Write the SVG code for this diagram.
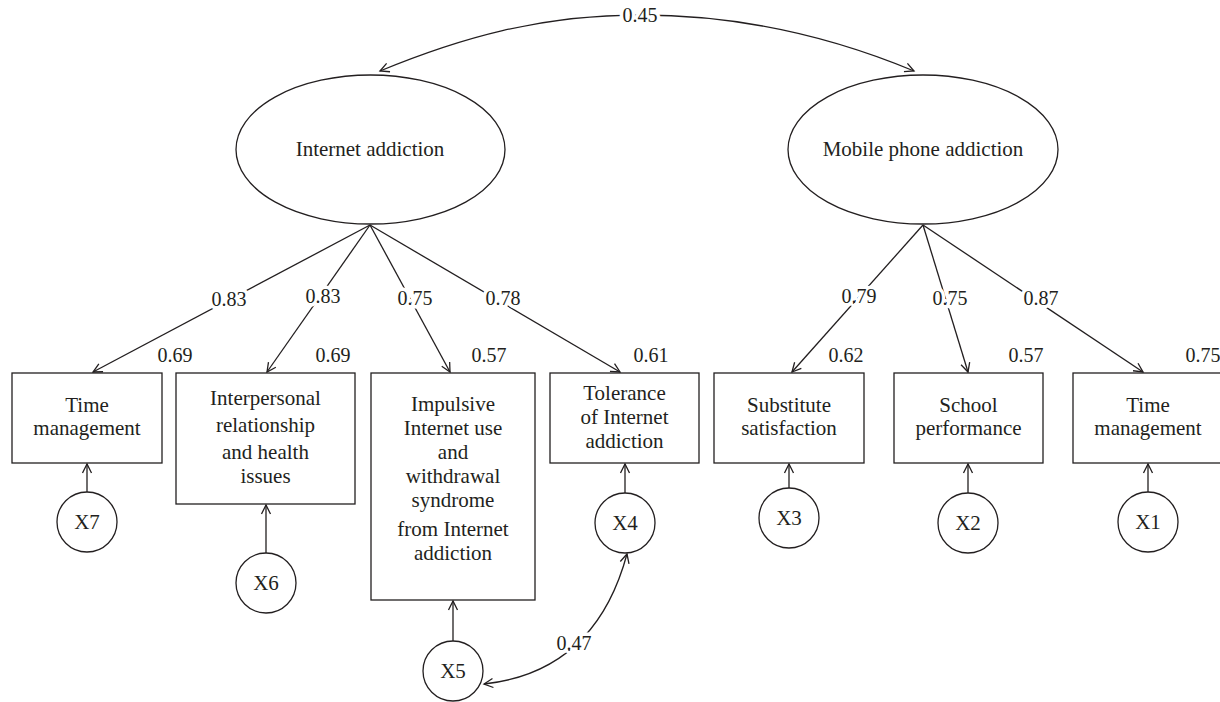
<svg xmlns="http://www.w3.org/2000/svg" width="1220" height="702" viewBox="0 0 1220 702">
<style>
  .shape { fill: #fff; stroke: #231f20; stroke-width: 1.3; }
  .t { font-family: "Liberation Serif", "DejaVu Serif", serif; font-size: 21px; fill: #231f20; text-anchor: middle; }
  .lbl { font-family: "Liberation Serif", "DejaVu Serif", serif; font-size: 20px; fill: #231f20; text-anchor: middle; stroke: #fff; stroke-width: 7; paint-order: stroke; stroke-linejoin: round; }
  .sq { font-family: "Liberation Serif", "DejaVu Serif", serif; font-size: 20px; fill: #231f20; text-anchor: middle; }
  .c { fill: none; stroke: #231f20; stroke-width: 1.3; }
</style>
<defs>
  <marker id="ah" markerUnits="userSpaceOnUse" markerWidth="12" markerHeight="12" refX="10" refY="6" orient="auto-start-reverse">
    <path d="M1,1.5 L10,6 L1,10.5" fill="none" stroke="#231f20" stroke-width="1.3"/>
  </marker>
</defs>

<g id="connectors">
  <path class="c" d="M380,71 C460,38 540,15 640,15 C740,15 830,36 914,71" marker-start="url(#ah)" marker-end="url(#ah)"/>
  <line class="c" x1="370" y1="225" x2="93" y2="372" marker-end="url(#ah)"/>
  <line class="c" x1="370" y1="225" x2="267" y2="372" marker-end="url(#ah)"/>
  <line class="c" x1="370" y1="225" x2="450" y2="372" marker-end="url(#ah)"/>
  <line class="c" x1="370" y1="225" x2="620" y2="372" marker-end="url(#ah)"/>
  <line class="c" x1="923" y1="225" x2="792" y2="372" marker-end="url(#ah)"/>
  <line class="c" x1="923" y1="225" x2="968" y2="372" marker-end="url(#ah)"/>
  <line class="c" x1="923" y1="225" x2="1143" y2="372" marker-end="url(#ah)"/>
  <line class="c" x1="87" y1="492" x2="87" y2="464" marker-end="url(#ah)"/>
  <line class="c" x1="266" y1="553" x2="266" y2="505" marker-end="url(#ah)"/>
  <line class="c" x1="453" y1="641" x2="453" y2="601" marker-end="url(#ah)"/>
  <line class="c" x1="625" y1="493" x2="625" y2="464" marker-end="url(#ah)"/>
  <line class="c" x1="789" y1="488" x2="789" y2="464" marker-end="url(#ah)"/>
  <line class="c" x1="968" y1="493" x2="968" y2="464" marker-end="url(#ah)"/>
  <line class="c" x1="1148" y1="492" x2="1148" y2="464" marker-end="url(#ah)"/>
  <path class="c" d="M484,684 Q595,672 627,554" marker-start="url(#ah)" marker-end="url(#ah)"/>
  <text class="lbl" x="640" y="22">0.45</text>
  <text class="lbl" x="229" y="306">0.83</text>
  <text class="lbl" x="323" y="303">0.83</text>
  <text class="lbl" x="415" y="305">0.75</text>
  <text class="lbl" x="503" y="305">0.78</text>
  <text class="lbl" x="859" y="303">0.79</text>
  <text class="lbl" x="950" y="305">0.75</text>
  <text class="lbl" x="1041" y="305">0.87</text>
  <text class="lbl" x="574" y="650">0.47</text>
</g>

<g id="internet-addiction">
  <ellipse class="shape" cx="370.5" cy="149.5" rx="134.5" ry="74.5"/>
  <text class="t" x="370" y="156">Internet addiction</text>
</g>
<g id="mobile-phone-addiction">
  <ellipse class="shape" cx="923" cy="149.5" rx="135" ry="74.5"/>
  <text class="t" x="923" y="156">Mobile phone addiction</text>
</g>

<g id="time-management-1">
  <rect class="shape" x="12" y="373" width="150" height="90"/>
  <text class="t" x="87" y="412">Time</text>
  <text class="t" x="87" y="435">management</text>
  <text class="sq" x="175" y="362">0.69</text>
</g>
<g id="interpersonal">
  <rect class="shape" x="176" y="373" width="179" height="131"/>
  <text class="t" x="265.5" y="405">Interpersonal</text>
  <text class="t" x="265.5" y="432">relationship</text>
  <text class="t" x="265.5" y="459">and health</text>
  <text class="t" x="265.5" y="483">issues</text>
  <text class="sq" x="333" y="362">0.69</text>
</g>
<g id="impulsive">
  <rect class="shape" x="371" y="373" width="164" height="227"/>
  <text class="t" x="453" y="411">Impulsive</text>
  <text class="t" x="453" y="435">Internet use</text>
  <text class="t" x="453" y="459">and</text>
  <text class="t" x="453" y="483">withdrawal</text>
  <text class="t" x="453" y="507">syndrome</text>
  <text class="t" x="453" y="536">from Internet</text>
  <text class="t" x="453" y="560">addiction</text>
  <text class="sq" x="489" y="362">0.57</text>
</g>
<g id="tolerance">
  <rect class="shape" x="550" y="373" width="149" height="90"/>
  <text class="t" x="624.5" y="400">Tolerance</text>
  <text class="t" x="624.5" y="424">of Internet</text>
  <text class="t" x="624.5" y="448">addiction</text>
  <text class="sq" x="651" y="362">0.61</text>
</g>
<g id="substitute">
  <rect class="shape" x="714" y="373" width="150" height="90"/>
  <text class="t" x="789" y="412">Substitute</text>
  <text class="t" x="789" y="435">satisfaction</text>
  <text class="sq" x="846" y="362">0.62</text>
</g>
<g id="school">
  <rect class="shape" x="894" y="373" width="149" height="90"/>
  <text class="t" x="968.5" y="412">School</text>
  <text class="t" x="968.5" y="435">performance</text>
  <text class="sq" x="1026" y="362">0.57</text>
</g>
<g id="time-management-2">
  <rect class="shape" x="1073" y="373" width="150" height="90"/>
  <text class="t" x="1148" y="412">Time</text>
  <text class="t" x="1148" y="435">management</text>
  <text class="sq" x="1203" y="362">0.75</text>
</g>

<g id="X7"><circle class="shape" cx="87" cy="522" r="30"/><text class="t" x="87" y="529">X7</text></g>
<g id="X6"><circle class="shape" cx="266" cy="583" r="30"/><text class="t" x="266" y="590">X6</text></g>
<g id="X5"><circle class="shape" cx="453" cy="671" r="30"/><text class="t" x="453" y="678">X5</text></g>
<g id="X4"><circle class="shape" cx="625" cy="523" r="30"/><text class="t" x="625" y="530">X4</text></g>
<g id="X3"><circle class="shape" cx="789" cy="518" r="30"/><text class="t" x="789" y="525">X3</text></g>
<g id="X2"><circle class="shape" cx="968" cy="523" r="30"/><text class="t" x="968" y="530">X2</text></g>
<g id="X1"><circle class="shape" cx="1148" cy="522" r="30"/><text class="t" x="1148" y="529">X1</text></g>
</svg>
